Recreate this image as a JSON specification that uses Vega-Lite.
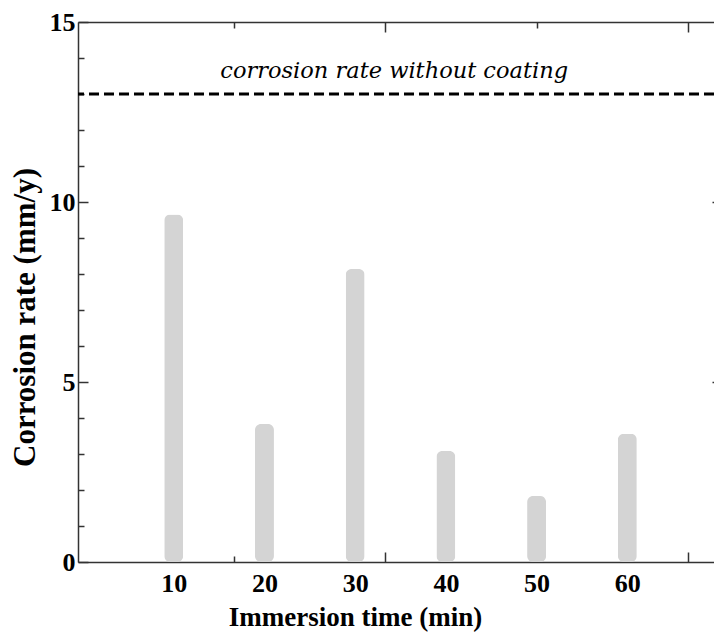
{
  "$schema": "https://vega.github.io/schema/vega-lite/v6.json",
  "autosize": "none",
  "width": 636,
  "height": 540,
  "padding": {"left": 78, "top": 22, "right": 0, "bottom": 73},
  "background": "white",
  "config": {"view": {"stroke": null}},
  "layer": [
    {
      "data": {"values": [
        {"time": 10, "rate": 9.65},
        {"time": 20, "rate": 3.83},
        {"time": 30, "rate": 8.14},
        {"time": 40, "rate": 3.08},
        {"time": 50, "rate": 1.83},
        {"time": 60, "rate": 3.56}
      ]},
      "mark": {"type": "bar", "width": 19, "cornerRadius": 6, "color": "#d4d4d4"},
      "encoding": {
        "x": {"field": "time", "type": "quantitative",
          "scale": {"domain": [0, 69], "nice": false, "zero": false},
          "axis": {"orient": "bottom", "title": "Immersion time (min)",
            "values": [10, 16.667, 20, 30, 33.333, 40, 50, 60, 66.667],
            "labelExpr": "datum.value % 10 === 0 ? datum.label : ''",
            "tickSize": {"signal": "(abs(datum.value - 33.333) < 0.01 || abs(datum.value - 66.667) < 0.01) ? -10 : (datum.value % 10 === 0 ? 0 : -6)"},
            "labelPadding": 8,
            "labelFont": "Liberation Serif", "labelFontSize": 26, "labelFontWeight": "bold", "labelColor": "#000",
            "labelFlush": false, "labelOverlap": false,
            "titleFont": "Liberation Serif", "titleFontSize": 27, "titleFontWeight": "bold", "titleColor": "#000",
            "titlePadding": 8, "titleX": 277, "titleAnchor": "middle", "titleAlign": "center",
            "domainColor": "#333", "domainWidth": 1.5, "tickColor": "#333", "tickWidth": 1.5, "grid": false}},
        "y": {"field": "rate", "type": "quantitative",
          "scale": {"domain": [0, 15], "nice": false},
          "axis": {"orient": "left", "title": "Corrosion rate (mm/y)",
            "values": [0,1,2,3,4,5,6,7,8,9,10,11,12,13,14,15],
            "labelExpr": "datum.value % 5 === 0 ? datum.label : ''",
            "tickSize": {"signal": "datum.value % 5 === 0 ? -10 : -6"},
            "labelPadding": 13,
            "labelFont": "Liberation Serif", "labelFontSize": 26, "labelFontWeight": "bold", "labelColor": "#000",
            "labelFlush": false, "labelOverlap": false,
            "titleFont": "Liberation Serif", "titleFontSize": 31, "titleFontWeight": "bold", "titleColor": "#000",
            "titlePadding": 8, "titleY": 295, "titleAnchor": "middle", "titleAlign": "center",
            "domainColor": "#333", "domainWidth": 1.5, "tickColor": "#333", "tickWidth": 1.5, "grid": false}}
      }
    },
    {
      "data": {"values": [{"rate": 13, "label": "corrosion rate without coating"}]},
      "mark": {"type": "rule", "strokeDash": [10, 5], "strokeWidth": 3, "color": "#000"},
      "encoding": {
        "y": {"field": "rate", "type": "quantitative", "axis": null}
      }
    },
    {
      "data": {"values": [{"rate": 13, "label": "corrosion rate without coating"}]},
      "mark": {"type": "text", "font": "DejaVu Serif", "fontSize": 22.5, "fontStyle": "italic", "align": "center", "baseline": "alphabetic", "dy": -16, "color": "#000"},
      "encoding": {
        "x": {"datum": 34.3, "type": "quantitative",
          "axis": {"orient": "top", "title": null, "labels": false,
            "values": [16.667, 33.333, 50, 66.667],
            "tickSize": {"signal": "(abs(datum.value - 33.333) < 0.01 || abs(datum.value - 66.667) < 0.01) ? -10 : -6"},
            "domainColor": "#333", "domainWidth": 1.5, "tickColor": "#333", "tickWidth": 1.5, "grid": false}},
        "y": {"field": "rate", "type": "quantitative",
          "axis": {"orient": "right", "title": null, "labels": false, "domain": false,
            "values": [5, 10], "tickSize": -2,
            "tickColor": "#333", "tickWidth": 1.5, "grid": false}},
        "text": {"field": "label"}
      }
    }
  ],
  "resolve": {"axis": {"x": "independent", "y": "independent"}}
}
